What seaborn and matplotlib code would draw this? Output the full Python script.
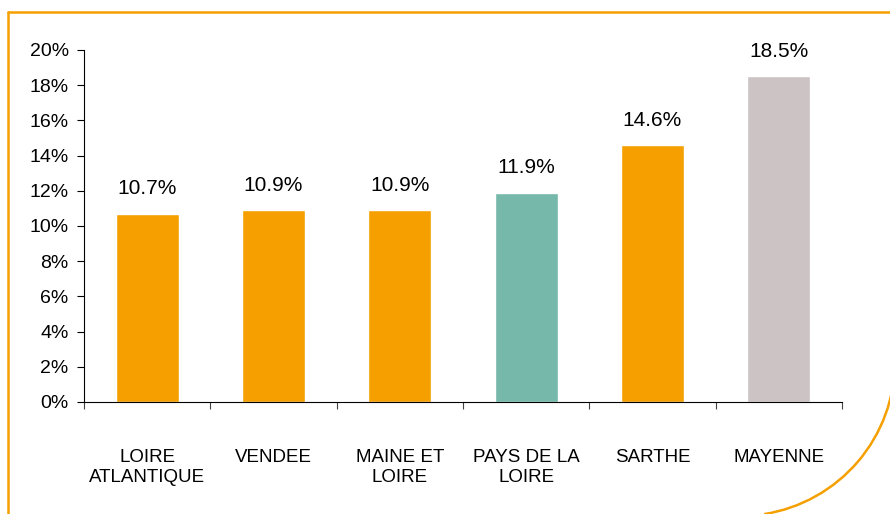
import matplotlib
matplotlib.use("Agg")
import matplotlib.pyplot as plt
import seaborn as sns
import pandas as pd
from matplotlib.patches import Arc
from matplotlib.lines import Line2D
from matplotlib.ticker import FuncFormatter, MultipleLocator

categories = ["LOIRE\nATLANTIQUE", "VENDEE", "MAINE ET\nLOIRE", "PAYS DE LA\nLOIRE", "SARTHE", "MAYENNE"]
values = [10.7, 10.9, 10.9, 11.9, 14.6, 18.5]
bar_colors = ["#F5A000", "#F5A000", "#F5A000", "#76B9AA", "#F5A000", "#CCC3C4"]

sns.set_theme(style="white")
plt.rcParams["font.family"] = ["Liberation Sans", "DejaVu Sans"]

df = pd.DataFrame({"cat": categories, "val": values})

fig = plt.figure(figsize=(8.9, 5.14), dpi=100)
ax = fig.add_axes([84 / 890, 1 - 402 / 514, (842 - 84) / 890, (402 - 50) / 514])

sns.barplot(data=df, x="cat", y="val", hue="cat", palette=bar_colors, legend=False,
            width=0.5, saturation=1, ax=ax)

ax.set_ylim(0, 20)
ax.set_xlim(-0.5, len(categories) - 0.5)
ax.yaxis.set_major_locator(MultipleLocator(2))
ax.yaxis.set_major_formatter(FuncFormatter(lambda v, p: f"{int(v)}%"))
ax.set_xlabel("")
ax.set_ylabel("")

for s in ["top", "right"]:
    ax.spines[s].set_visible(False)
for s in ["left", "bottom"]:
    ax.spines[s].set_color("#000000")
    ax.spines[s].set_linewidth(0.8)

ax.tick_params(axis="y", which="major", left=True, length=5, width=0.8, color="#000000",
               labelsize=14, pad=6, labelcolor="#000000")
ax.set_xticks(range(len(categories)))
ax.set_xticklabels(categories, fontsize=13.5, color="#000000", linespacing=1.2)
ax.tick_params(axis="x", which="major", bottom=False, pad=28)
ax.set_xticks([i - 0.5 for i in range(len(categories) + 1)], minor=True)
ax.tick_params(axis="x", which="minor", bottom=True, length=5, width=0.8, color="#444444")
for lbl in ax.get_xticklabels():
    lbl.set_verticalalignment("top")

for i, v in enumerate(values):
    ax.text(i, v + 1.1, f"{v:.1f}%", ha="center", va="baseline", fontsize=15, color="#000000")

# decorative frame
orange = "#F5A000"
fig.add_artist(Line2D([8 / 890, 1.0], [1 - 12 / 514, 1 - 12 / 514], color=orange, lw=1.8,
                      transform=fig.transFigure))
fig.add_artist(Line2D([8 / 890, 8 / 890], [1 - 12 / 514, 0], color=orange, lw=1.8,
                      transform=fig.transFigure))
arc = Arc((7.40, 1.53), 3.10, 3.10, theta1=-81, theta2=0, color=orange, lw=1.8,
          transform=fig.dpi_scale_trans)
fig.add_artist(arc)

fig.savefig("out.png", dpi=100)
